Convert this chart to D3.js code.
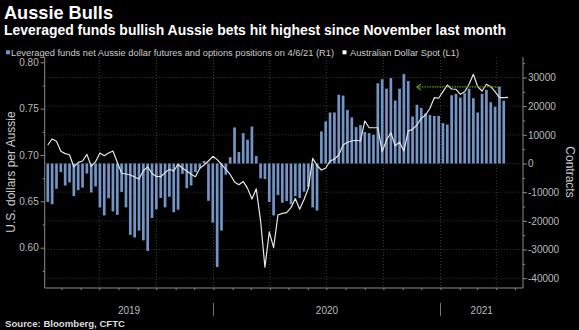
<!DOCTYPE html>
<html>
<head>
<meta charset="utf-8">
<script src="https://cdn.jsdelivr.net/npm/d3@7"></script>
<style>
  body { margin: 0; background: #000; }
  svg { display: block; font-family: "Liberation Sans", Arial, sans-serif; }
</style>
</head>
<body>
<div id="chart"></div>
<script>
var width = 579;
var height = 330;

// weekly CFTC positions, first week shown and net contracts per week
var firstWeek = '2019-04-09';
var netPositions = [
  -13400, -14200, -8800, -3000, -7700, -6600, -11400, -9300, -8400, -3500,
  -10100, -8000, -15300, -18100, -12100, -16700, -17900, -9900, -15300, -24900,
  -25800, -23400, -26800, -30500, -19000, -16000, -12000, -15300, -11600, -17000,
  -16100, -3600, -8600, -7700, -3000, -1700, 900, -13000, -20600, -36100,
  -23400, -3900, 2200, 12600, 4000, 10600, 8300, 12900, 2600, -5200,
  -5400, -13400, -18100, -11000, -13700, -13100, -14200, -11400, -12000, -9800,
  -8200, -15300, -16400, 11200, 14700, 17800, 17800, 24000, 23700, 18700,
  16100, 12700, 13400, 11000, 10600, 10000, 28000, 29400, 26100, 29800,
  22000, 26100, 31200, 28800, 16400, 20500, 19400, 17500, 16900, 16600,
  16600, 14100, 13600, 23800, 24300, 23000, 24500, 26100, 22800, 17800,
  24300, 25700, 21400, 19800, 26700, 21900
];

// Australian dollar spot, weekly
var audSpot = [
  0.7108, 0.7173, 0.7148, 0.7040, 0.7015, 0.7003, 0.6871, 0.6921, 0.6935, 0.7007,
  0.6878, 0.6928, 0.7022, 0.6993, 0.7022, 0.7043, 0.6921, 0.6803, 0.6795, 0.6784,
  0.6763, 0.6741, 0.6830, 0.6871, 0.6800, 0.6768, 0.6766, 0.6810, 0.6846, 0.6827,
  0.6900, 0.6857, 0.6827, 0.6792, 0.6766, 0.6857, 0.6892, 0.6935, 0.6986, 0.6950,
  0.6900, 0.6845, 0.6790, 0.6710, 0.6680, 0.6715, 0.6640, 0.6525, 0.6635, 0.6290,
  0.5789, 0.6170, 0.6000, 0.6353, 0.6370, 0.6378, 0.6432, 0.6530, 0.6415, 0.6520,
  0.6641, 0.6964, 0.6887, 0.6838, 0.6860, 0.6935, 0.6955, 0.7000, 0.7108, 0.7137,
  0.7151, 0.7159, 0.7151, 0.7367, 0.7294, 0.7294, 0.7294, 0.7036, 0.7162, 0.7240,
  0.7100, 0.7137, 0.7043, 0.7259, 0.7277, 0.7324, 0.7396, 0.7431, 0.7504, 0.7618,
  0.7612, 0.7683, 0.7755, 0.7712, 0.7709, 0.7655, 0.7683, 0.7763, 0.7871, 0.7737,
  0.7690, 0.7763, 0.7737, 0.7683, 0.7618, 0.7618, 0.7622
];

var leftTicks = [0.60, 0.65, 0.70, 0.75, 0.80];
var leftMinorTicks = [0.575, 0.625, 0.675, 0.725, 0.775];
var rightTicks = [30000, 20000, 10000, 0, -10000, -20000, -30000, -40000];
var rightMinorTicks = [35000, 25000, 15000, 5000, -5000, -15000, -25000, -35000];
var yearStarts = ['2019-01-01', '2020-01-01', '2021-01-01'];
var yearLabels = ['2019', '2020', '2021'];

// green arrow: latest high reaching back to November
var arrowFrom = '2020-11-24';
var arrowTo = '2021-04-08';
var arrowLevel = 26700;

var parse = d3.timeParse('%Y-%m-%d');
var start = parse(firstWeek);
var barDates = netPositions.map(function(d, i) { return d3.timeDay.offset(start, 7 * i); });
var spotDates = audSpot.map(function(d, i) { return d3.timeDay.offset(start, 7 * i); });

var plotLeft = 44.7, plotRight = 523, plotTop = 57, plotBottom = 288;

var x = d3.scaleTime()
  .domain([parse('2019-04-04'), parse('2021-05-14')])
  .range([plotLeft, plotRight]);
var yL = d3.scaleLinear().domain([0.60, 0.80]).range([247.7, 62.3]);
var yR = d3.scaleLinear().domain([-40000, 30000]).range([278.2, 77.5]);

var svg = d3.select('#chart').append('svg')
  .attr('width', width)
  .attr('height', height);

svg.append('rect').attr('width', width).attr('height', height).attr('fill', '#000');

svg.append('clipPath').attr('id', 'plot')
  .append('rect')
  .attr('x', plotLeft).attr('y', plotTop)
  .attr('width', plotRight - plotLeft).attr('height', plotBottom - plotTop);

// titles
svg.append('text')
  .attr('x', 4).attr('y', 18.5)
  .attr('fill', '#fff').attr('font-weight', 'bold').attr('font-size', 18.5)
  .attr('textLength', 109).attr('lengthAdjust', 'spacingAndGlyphs')
  .text('Aussie Bulls');
svg.append('text')
  .attr('x', 4).attr('y', 35)
  .attr('fill', '#fff').attr('font-weight', 'bold').attr('font-size', 14)
  .attr('textLength', 502).attr('lengthAdjust', 'spacingAndGlyphs')
  .text('Leveraged funds bullish Aussie bets hit highest since November last month');

// legend
svg.append('rect').attr('x', 6).attr('y', 50.3).attr('width', 4).attr('height', 4).attr('fill', '#7394c4');
svg.append('text')
  .attr('x', 11).attr('y', 55.5)
  .attr('fill', '#ccc').attr('font-size', 8.5)
  .attr('textLength', 323).attr('lengthAdjust', 'spacingAndGlyphs')
  .text('Leveraged funds net Aussie dollar futures and options positions on 4/6/21 (R1)');
svg.append('rect').attr('x', 342.5).attr('y', 50.3).attr('width', 4).attr('height', 4).attr('fill', '#fff');
svg.append('text')
  .attr('x', 350).attr('y', 55.5)
  .attr('fill', '#ccc').attr('font-size', 8.5)
  .attr('textLength', 109).attr('lengthAdjust', 'spacingAndGlyphs')
  .text('Australian Dollar Spot  (L1)');

// grid
svg.append('g').selectAll('line')
  .data(rightTicks)
  .enter().append('line')
  .attr('x1', plotLeft).attr('x2', plotRight)
  .attr('y1', function(d) { return yR(d); })
  .attr('y2', function(d) { return yR(d); })
  .attr('stroke', '#4d4d4d').attr('stroke-width', 0.8).attr('stroke-dasharray', '1,2');

var quarters = d3.timeMonth.every(3).range(x.domain()[0], x.domain()[1])
  .filter(function(d) { return d.getMonth() % 3 === 0; });
svg.append('g').selectAll('line')
  .data(quarters)
  .enter().append('line')
  .attr('x1', function(d) { return x(d); })
  .attr('x2', function(d) { return x(d); })
  .attr('y1', plotTop).attr('y2', plotBottom)
  .attr('stroke', '#4d4d4d').attr('stroke-width', 0.8).attr('stroke-dasharray', '1,2');

// bars
var barW = 2.7;
svg.append('g').attr('clip-path', 'url(#plot)')
  .selectAll('rect')
  .data(netPositions)
  .enter().append('rect')
  .attr('x', function(d, i) { return x(barDates[i]) - barW / 2; })
  .attr('y', function(d) { return Math.min(yR(d), yR(0)); })
  .attr('width', barW)
  .attr('height', function(d) { return Math.abs(yR(d) - yR(0)); })
  .attr('fill', '#7394c4');

// spot line
var line = d3.line()
  .x(function(d, i) { return x(spotDates[i]); })
  .y(function(d) { return yL(d); });
svg.append('path')
  .datum(audSpot)
  .attr('clip-path', 'url(#plot)')
  .attr('d', line)
  .attr('fill', 'none')
  .attr('stroke', '#e6e6e6')
  .attr('stroke-width', 1.2)
  .attr('stroke-linejoin', 'round');

// green arrow
var ay = yR(arrowLevel);
var ax1 = x(parse(arrowFrom)), ax2 = x(parse(arrowTo));
svg.append('line')
  .attr('x1', ax1).attr('x2', ax2).attr('y1', ay).attr('y2', ay)
  .attr('stroke', '#5c9e1e').attr('stroke-width', 1.3).attr('stroke-dasharray', '1.5,1');
svg.append('path')
  .attr('d', 'M' + (ax1 + 4) + ',' + (ay - 3) + 'L' + ax1 + ',' + ay + 'L' + (ax1 + 4) + ',' + (ay + 3))
  .attr('fill', 'none').attr('stroke', '#5c9e1e').attr('stroke-width', 1.2);

// axes frame
var axisColor = '#8a8a8a';
svg.append('line').attr('x1', plotLeft).attr('x2', plotLeft).attr('y1', plotTop).attr('y2', plotBottom).attr('stroke', axisColor);
svg.append('line').attr('x1', plotRight).attr('x2', plotRight).attr('y1', plotTop).attr('y2', plotBottom).attr('stroke', axisColor);
svg.append('line').attr('x1', plotLeft).attr('x2', plotRight).attr('y1', plotBottom).attr('y2', plotBottom).attr('stroke', axisColor);

function styleAxis(g) {
  g.select('.domain').remove();
  g.selectAll('line').attr('stroke', axisColor);
  g.selectAll('text').attr('fill', '#bbb').attr('font-size', 10).attr('font-family', '"Liberation Sans", Arial, sans-serif');
}

svg.append('g')
  .attr('transform', 'translate(' + plotLeft + ',0)')
  .call(d3.axisLeft(yL).tickValues(leftTicks).tickFormat(d3.format('.2f')).tickSize(4).tickPadding(2))
  .call(styleAxis);
svg.append('g')
  .attr('transform', 'translate(' + plotLeft + ',0)')
  .call(d3.axisLeft(yL).tickValues(leftMinorTicks).tickFormat('').tickSize(2))
  .call(styleAxis);

svg.append('g')
  .attr('transform', 'translate(' + plotRight + ',0)')
  .call(d3.axisRight(yR).tickValues(rightTicks).tickFormat(function(d) { return String(d); }).tickSize(4).tickPadding(1))
  .call(styleAxis);
svg.append('g')
  .attr('transform', 'translate(' + plotRight + ',0)')
  .call(d3.axisRight(yR).tickValues(rightMinorTicks).tickFormat('').tickSize(2))
  .call(styleAxis);

// bottom month ticks
svg.append('g')
  .attr('transform', 'translate(0,' + plotBottom + ')')
  .call(d3.axisBottom(x).ticks(d3.timeMonth.every(1)).tickFormat('').tickSize(2))
  .call(styleAxis);

// year separators and labels
var yearBounds = yearStarts.map(parse);
var xMin = x.domain()[0], xMax = x.domain()[1];
svg.append('g').selectAll('line')
  .data(yearBounds.slice(1))
  .enter().append('line')
  .attr('x1', function(d) { return x(d); })
  .attr('x2', function(d) { return x(d); })
  .attr('y1', 303).attr('y2', 316)
  .attr('stroke', '#777');
svg.append('g').selectAll('text')
  .data(yearLabels)
  .enter().append('text')
  .attr('x', function(d, i) {
    var a = yearBounds[i] < xMin ? xMin : yearBounds[i];
    var b = i + 1 < yearBounds.length ? yearBounds[i + 1] : xMax;
    return (x(a) + x(b)) / 2;
  })
  .attr('y', 313.5)
  .attr('text-anchor', 'middle')
  .attr('fill', '#bbb').attr('font-size', 10)
  .text(function(d) { return d; });

// axis titles
svg.append('text')
  .attr('transform', 'translate(15,172) rotate(-90)')
  .attr('text-anchor', 'middle')
  .attr('fill', '#ccc').attr('font-size', 12)
  .text('U.S. dollars per Aussie');
svg.append('text')
  .attr('transform', 'translate(566,172) rotate(90)')
  .attr('text-anchor', 'middle')
  .attr('fill', '#ccc').attr('font-size', 12)
  .text('Contracts');

// source
svg.append('text')
  .attr('x', 5).attr('y', 326.5)
  .attr('fill', '#ddd').attr('font-weight', 'bold').attr('font-size', 9)
  .attr('textLength', 120).attr('lengthAdjust', 'spacingAndGlyphs')
  .text('Source: Bloomberg, CFTC');
</script>
</body>
</html>
